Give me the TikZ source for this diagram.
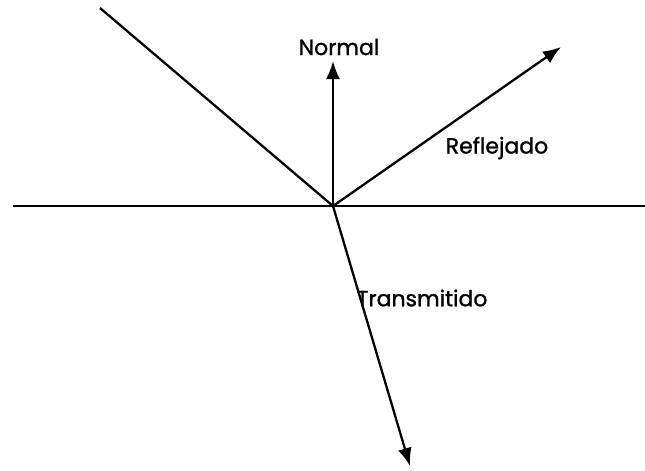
\documentclass[tikz,border=0pt]{standalone}
\usepackage{fontspec}
\setmainfont{Poppins}[FakeBold=1.2]
\usetikzlibrary{arrows.meta}
\begin{document}
\begin{tikzpicture}[line width=1.3pt, font=\fontsize{12.5}{14}\selectfont,
  ray/.style={-{Latex[length=3.6mm,width=2.8mm]}}]
  \useasboundingbox (-6.66,-5.28) rectangle (6.24,4.12);
  \coordinate (O) at (0,0);
  \coordinate (surfL) at (-6.40,0);
  \coordinate (surfR) at (6.24,0);
  \coordinate (inc) at (-4.66,3.96);
  \coordinate (nor) at (0,2.90);
  \coordinate (ref) at (4.56,3.18);
  \coordinate (tra) at (1.54,-5.20);
  \draw (surfL) -- (surfR);
  \draw (inc) -- (O);
  \draw[ray] (O) -- (nor);
  \draw[ray] (O) -- (ref);
  \draw[ray] (O) -- (tra);
  \node (lnor) at (0.12,3.18) {Normal};
  \node (lref) at (3.28,1.16) {Reflejado};
  \node (ltra) at (1.78,-1.84) {Transmitido};
\end{tikzpicture}
\end{document}
